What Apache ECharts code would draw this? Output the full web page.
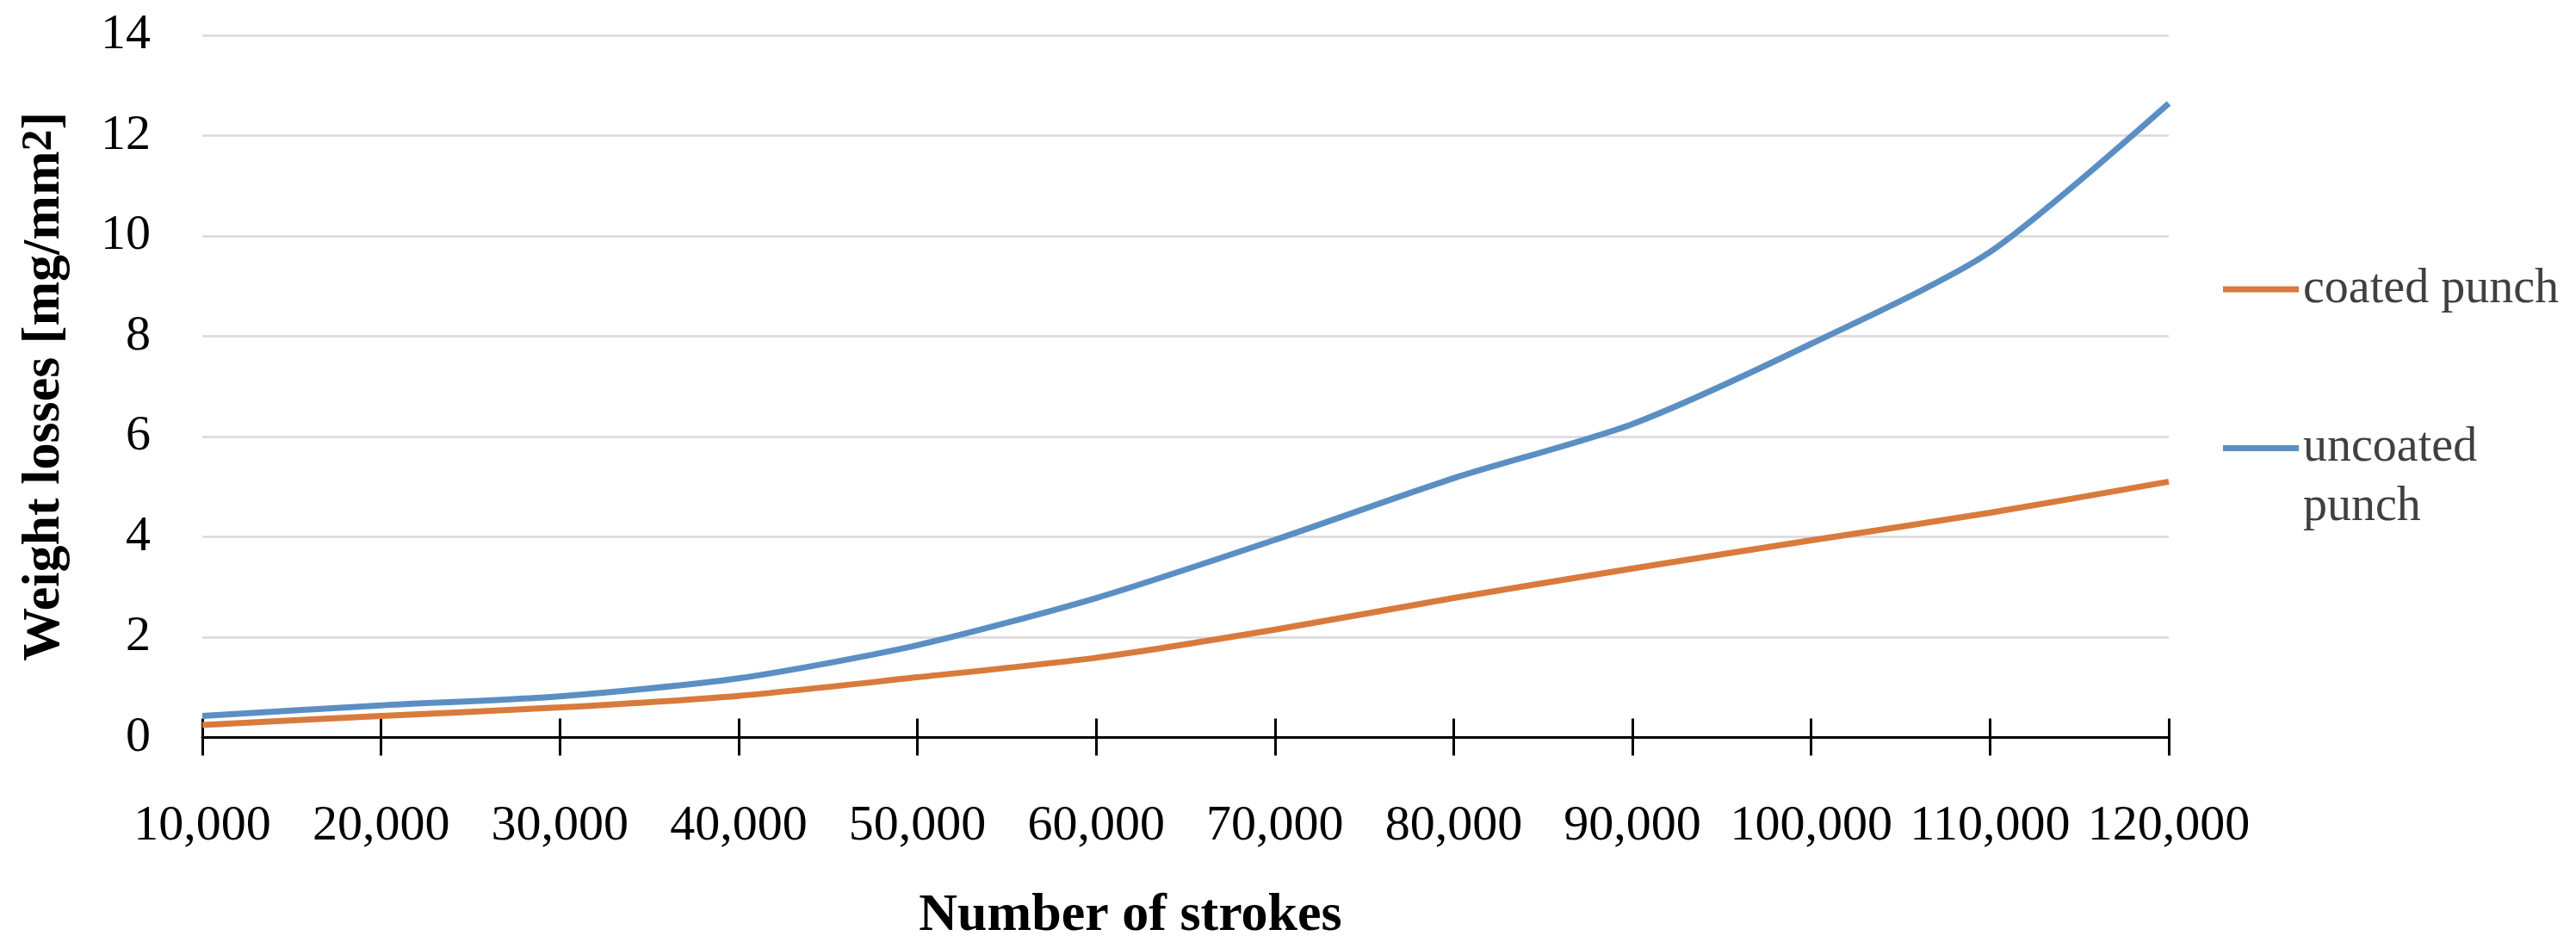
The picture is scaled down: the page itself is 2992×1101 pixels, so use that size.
<!DOCTYPE html>
<html>
<head>
<meta charset="utf-8">
<script src="https://cdn.jsdelivr.net/npm/echarts@6/dist/echarts.min.js"></script>
<style>
html,body{margin:0;padding:0;background:#fff;}
#chart{width:2992px;height:1101px;}
</style>
</head>
<body>
<div id="chart"></div>
<script>
var categories = ['10,000','20,000','30,000','40,000','50,000','60,000','70,000','80,000','90,000','100,000','110,000','120,000'];
var coatedPunch = [0.25, 0.43, 0.60, 0.83, 1.20, 1.59, 2.15, 2.78, 3.37, 3.93, 4.48, 5.10];
var uncoatedPunch = [0.43, 0.64, 0.82, 1.18, 1.84, 2.78, 3.94, 5.17, 6.25, 7.85, 9.68, 12.64];
var yTicks = {min: 0, max: 14, interval: 2};

var FONT = 'Liberation Serif';
var chart = echarts.init(document.getElementById('chart'), null, {renderer: 'canvas'});

var gridBox = {left: 235, right: 473, top: 41, bottom: 244.5, outerBoundsMode: 'none'};

chart.setOption({
  backgroundColor: '#ffffff',
  animation: false,
  grid: [
    Object.assign({}, gridBox),
    Object.assign({}, gridBox)
  ],
  legend: [
    {
      orient: 'vertical', left: 2582, top: 308, padding: 0,
      data: ['coated punch'],
      icon: 'rect', itemWidth: 88, itemHeight: 7,
      textStyle: {fontFamily: FONT, fontSize: 56, lineHeight: 56, color: '#404040'}
    },
    {
      orient: 'vertical', left: 2582, top: 417, padding: 0,
      data: ['uncoated punch'],
      icon: 'rect', itemWidth: 88, itemHeight: 7,
      formatter: function () { return ' \nuncoated\npunch'; },
      textStyle: {fontFamily: FONT, fontSize: 56, lineHeight: 69, color: '#404040'}
    }
  ],
  xAxis: [
    {
      type: 'category', gridIndex: 0, data: categories, boundaryGap: false,
      name: 'Number of strokes', nameLocation: 'middle', nameGap: 176,
      nameTextStyle: {fontFamily: FONT, fontSize: 62, fontWeight: 'bold', color: '#000', padding: [0,128,0,0]},
      axisLine: {show: true, lineStyle: {color: '#000', width: 3}},
      axisTick: {show: true, inside: false, length: 21, alignWithLabel: true, lineStyle: {color: '#000', width: 3}},
      axisLabel: {fontFamily: FONT, fontSize: 58, color: '#000', margin: 74, interval: 0},
      splitLine: {show: false}
    },
    {
      type: 'category', gridIndex: 1, data: categories, boundaryGap: false,
      axisLine: {show: false},
      axisTick: {show: true, inside: true, length: 22, alignWithLabel: true, lineStyle: {color: '#000', width: 3}},
      axisLabel: {show: false},
      splitLine: {show: false}
    }
  ],
  yAxis: [
    {
      type: 'value', gridIndex: 0, min: yTicks.min, max: yTicks.max, interval: yTicks.interval,
      name: '{a|Weight losses [mg/mm}{b|2}{a|]}', nameLocation: 'middle', nameGap: 152, nameRotate: 90,
      nameTextStyle: {
        rich: {
          a: {fontFamily: FONT, fontSize: 62, fontWeight: 'bold', color: '#000', lineHeight: 62},
          b: {fontFamily: FONT, fontSize: 50, fontWeight: 'bold', color: '#000', verticalAlign: 'top', lineHeight: 62}
        }
      },
      axisLine: {show: false},
      axisTick: {show: false},
      axisLabel: {fontFamily: FONT, fontSize: 58, color: '#000', margin: 60},
      splitLine: {show: true, lineStyle: {color: '#d9d9d9', width: 2.5}}
    },
    {
      type: 'value', gridIndex: 1, min: yTicks.min, max: yTicks.max, interval: yTicks.interval,
      axisLine: {show: false}, axisTick: {show: false}, axisLabel: {show: false}, splitLine: {show: false}
    }
  ],
  series: [
    {
      name: 'coated punch', type: 'line', xAxisIndex: 0, yAxisIndex: 0,
      data: coatedPunch, smooth: 0.25, symbol: 'none', z: 3,
      itemStyle: {color: '#D97A3D'},
      lineStyle: {color: '#D97A3D', width: 7}
    },
    {
      name: 'uncoated punch', type: 'line', xAxisIndex: 0, yAxisIndex: 0,
      data: uncoatedPunch, smooth: 0.25, symbol: 'none', z: 3,
      itemStyle: {color: '#5B8FC3'},
      lineStyle: {color: '#5B8FC3', width: 7}
    }
  ]
});
</script>
</body>
</html>
